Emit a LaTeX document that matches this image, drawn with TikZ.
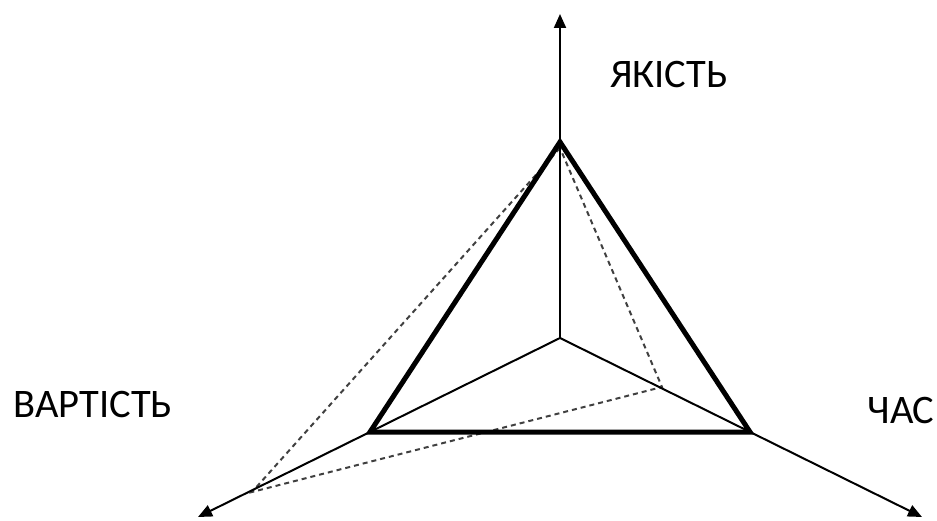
\documentclass[tikz,border=0pt]{standalone}
\usepackage{fontspec}
\setmainfont{Carlito}
\usetikzlibrary{arrows.meta}
\begin{document}
\begin{tikzpicture}[x=1pt,y=-1pt,
  axisline/.style={line width=2pt,-{Triangle[length=14pt,width=12pt]}},
  triline/.style={line width=5pt,line join=miter},
  dashline/.style={line width=2pt,dash pattern=on 5pt off 4pt,gray!50!black},
  lbl/.style={font=\fontsize{40.5}{48}\selectfont,inner sep=0pt}]
\useasboundingbox (0,0) rectangle (937,521);
\coordinate (O) at (560,338);
\coordinate (T) at (560,142);
\coordinate (L) at (370,432);
\coordinate (R) at (750,432);
\coordinate (Ttip) at (560,14);
\coordinate (Ltip) at (198,517);
\coordinate (Rtip) at (922,517);
\coordinate (DT) at (560,148);
\coordinate (DL) at (252,492);
\coordinate (DR) at (662,387);
\draw[dashline] (DT) -- (DL) -- (DR) -- cycle;
\draw[axisline] (O) -- (Ttip);
\draw[axisline] (O) -- (Ltip);
\draw[axisline] (O) -- (Rtip);
\draw[triline] (T) -- (L) -- (R) -- cycle;
\node[lbl] (q) at (669,75) {ЯКІСТЬ};
\node[lbl] (c) at (93,404) {ВАРТІСТЬ};
\node[lbl] (t) at (901,410) {ЧАС};
\end{tikzpicture}
\end{document}
